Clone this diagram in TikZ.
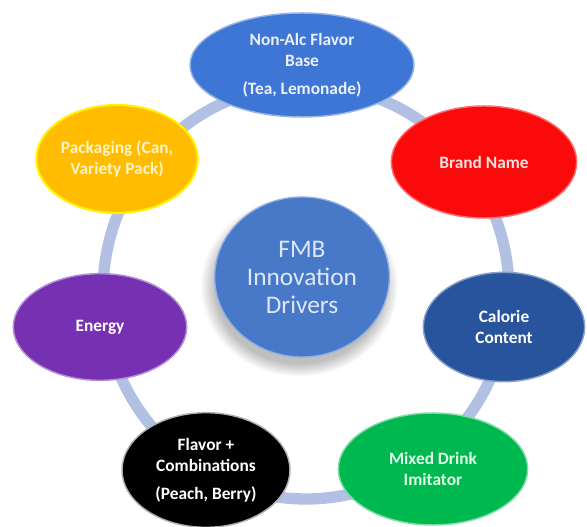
\documentclass[tikz,border=0pt]{standalone}
\usepackage{fontspec}
\setmainfont{Carlito}
\usetikzlibrary{shapes.geometric,shadows}

\definecolor{ringblue}{RGB}{178,192,228}
\definecolor{baseblue}{RGB}{62,118,214}
\definecolor{brandred}{RGB}{250,10,10}
\definecolor{packorange}{RGB}{255,188,0}
\definecolor{energypurple}{RGB}{118,48,178}
\definecolor{calblue}{RGB}{40,84,158}
\definecolor{mixgreen}{RGB}{0,184,80}
\definecolor{hubblue}{RGB}{72,120,200}

\tikzset{
  driver/.style={ellipse, inner sep=0pt, align=center, line width=1.1pt,
    font=\fontsize{13}{16}\selectfont\bfseries},
  hub/.style={ellipse, inner sep=0pt, align=center, fill=hubblue,
    draw=hubblue!60!white, line width=1pt, text={rgb,255:red,222;green,232;blue,248},
    font=\fontsize{19}{21}\selectfont,
    circular drop shadow={shadow xshift=-2pt, shadow yshift=-6pt, shadow scale=1.13, opacity=0.5}}
}

\begin{document}
\begin{tikzpicture}[x=0.75pt,y=0.75pt,yscale=-1,xscale=1]
\useasboundingbox (0,0) rectangle (587,527);

% ring behind the drivers
\draw[ringblue, line width=8.5pt] (306,292) ellipse (203 and 207);

% centre
\node[hub, minimum width=131pt, minimum height=120pt] (hub) at (302,277) {FMB\\Innovation\\Drivers};

% drivers round the ring
\node[driver, fill=baseblue, draw=baseblue!55!white, text={rgb,255:red,235;green,240;blue,250},
  minimum width=168pt, minimum height=78pt] (base) at (302,65)
  {Non-Alc Flavor\\Base\\[5pt](Tea, Lemonade)};
\node[driver, fill=brandred, draw=brandred!60!white, text={rgb,255:red,255;green,225;blue,225},
  minimum width=139pt, minimum height=84pt] (brand) at (484,162) {Brand Name};
\node[driver, fill=calblue, draw=calblue!55!white, text=white,
  minimum width=121pt, minimum height=82pt] (calorie) at (504,327) {Calorie\\Content};
\node[driver, fill=mixgreen, draw=mixgreen!50!white, text={rgb,255:red,225;green,255;blue,232},
  minimum width=142pt, minimum height=84pt] (mixed) at (433,469) {Mixed Drink\\Imitator};
\node[driver, fill=black, draw=white!70!black, text=white,
  minimum width=126pt, minimum height=86pt] (combo) at (206,470)
  {Flavor +\\Combinations\\[5pt](Peach, Berry)};
\node[driver, fill=energypurple, draw=energypurple!55!white, text=white,
  minimum width=130pt, minimum height=80pt] (energy) at (100,327) {Energy};
\node[driver, fill=packorange, draw=yellow, line width=1.6pt, text={rgb,255:red,255;green,245;blue,200},
  minimum width=121pt, minimum height=81pt] (pack) at (117,159) {Packaging (Can,\\Variety Pack)};
\end{tikzpicture}
\end{document}
